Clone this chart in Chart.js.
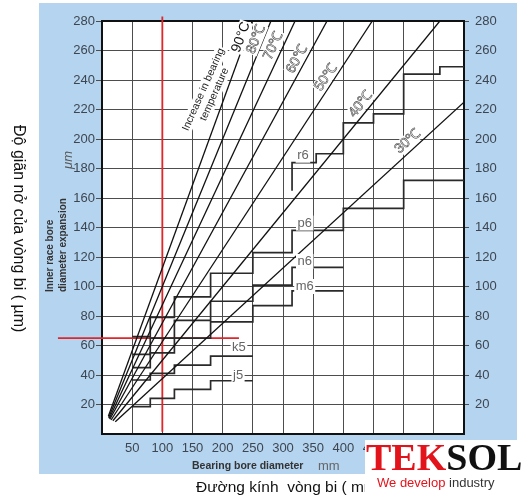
<!DOCTYPE html>
<html><head><meta charset="utf-8">
<script src="https://cdn.jsdelivr.net/npm/chart.js@4/dist/chart.umd.min.js"></script>
<style>html,body{margin:0;padding:0;background:#fff;}canvas{display:block;}</style>
</head><body>
<canvas id="c" width="529" height="496"></canvas>
<script>
// ---- data ----
const xTicks = [50, 100, 150, 200, 250, 300, 350, 400, 450, 500, 550];
const yTicks = [20, 40, 60, 80, 100, 120, 140, 160, 180, 200, 220, 240, 260, 280];

const tempNames  = ['90°C', '80℃', '70℃', '60℃', '50℃', '40℃', '30℃'];
const tempStartX = [10.5, 11, 12, 13, 15, 18, 22];
const tempStartY = [12, 11, 10.5, 10, 9.5, 9, 8.3];
const tempEndX   = [249, 280, 320, 373, 448, 560, 600];
const tempEndY   = [280, 280, 280, 280, 280, 280, 225];

const sizeSteps = [50, 80, 120, 180, 250, 315, 400, 500, 600];
const j5 = [18.5, 24.2, 30.3, 36.1];
const k5 = [36.6, 41.1, 46.7, 52.8];
const m6 = [45, 55, 65, 76, 87, 97];
const n6 = [54, 65, 77, 90, 101, 113];
const p6 = [66, 79, 93, 109, 123, 138, 153, 172];
const r6Steps = [315, 315, 355, 400, 450, 500, 560, 600];
const r6 = [165, 184, 190, 211, 217, 244, 249];

const redVX = [100, 100], redVY = [283, 1.5];
const redHX = [-73, 227], redHY = [65, 65];

// ---- label placement (data coordinates) ----
const tempLabelPos = [[230.5, 269], [255.3, 267.6], [284.3, 263.2], [323.2, 254.1], [371.2, 241.9], [429.1, 223.6], [506.9, 198.5]];
const fitLabels = [
  {t: 'k5', x: 227, y: 58.6}, {t: 'j5', x: 225.5, y: 40},
  {t: 'm6', x: 336, y: 100}, {t: 'n6', x: 336, y: 117},
  {t: 'p6', x: 336, y: 143}, {t: 'r6', x: 333, y: 189}
];

function steps(xs, vals) {
  const pts = vals.map((v, i) => ({x: xs[i], y: v}));
  pts.push({x: xs[vals.length], y: vals[vals.length - 1]});
  return pts;
}

const datasets = [];
tempNames.forEach((n, i) => datasets.push({
  label: n, data: [{x: tempStartX[i], y: tempStartY[i]}, {x: tempEndX[i], y: tempEndY[i]}],
  borderColor: '#111', borderWidth: 1.3, pointRadius: 0, fill: false
}));
[['j5', j5, sizeSteps], ['k5', k5, sizeSteps], ['m6', m6, sizeSteps], ['n6', n6, sizeSteps], ['p6', p6, sizeSteps], ['r6', r6, r6Steps]]
  .forEach(([n, v, xs]) => datasets.push({
    label: n, data: steps(xs, v), stepped: 'before',
    borderColor: '#2a2a2a', borderWidth: 1.7, pointRadius: 0, fill: false
  }));
datasets.push({label: 'redV', data: redVX.map((x, i) => ({x, y: redVY[i]})), borderColor: '#e0262a', borderWidth: 1.8, pointRadius: 0, clip: false});
datasets.push({label: 'redH', data: redHX.map((x, i) => ({x, y: redHY[i]})), borderColor: '#e0262a', borderWidth: 1.8, pointRadius: 0, clip: false});

const SANS = 'Arial, "Liberation Sans", sans-serif';
const tickFont = {family: SANS, size: 13};
const tickColor = '#3d4650';
const gridColor = '#4d4d4d';

function txt(ctx, s, x, y, ang, font, color, align, bg) {
  ctx.save();
  ctx.translate(x, y);
  ctx.rotate(ang);
  ctx.font = font;
  ctx.textAlign = align || 'center';
  ctx.textBaseline = 'middle';
  if (bg) {
    const w = ctx.measureText(s).width;
    const h = parseFloat(font.match(/(\d+(\.\d+)?)px/)[1]);
    const x0 = (align === 'left') ? 0 : (align === 'right' ? -w : -w / 2);
    ctx.fillStyle = bg;
    ctx.fillRect(x0 - 1.5, -h / 2 - 1, w + 3, h + 2);
  }
  ctx.fillStyle = color;
  ctx.fillText(s, 0, 0);
  ctx.restore();
}

const deco = {
  id: 'deco',
  beforeDraw(chart) {
    const ctx = chart.ctx, a = chart.chartArea;
    ctx.save();
    ctx.fillStyle = '#fff';
    ctx.fillRect(0, 0, chart.width, chart.height);
    ctx.fillStyle = '#b5d4ef';
    ctx.fillRect(39, 3, 478, 471);
    ctx.fillStyle = '#fff';
    ctx.fillRect(a.left, a.top, a.right - a.left, a.bottom - a.top);
    ctx.restore();
  },
  beforeDatasetsDraw(chart) {
    const ctx = chart.ctx, a = chart.chartArea;
    ctx.save();
    ctx.strokeStyle = '#111';
    ctx.lineWidth = 2;
    ctx.strokeRect(a.left, a.top, a.right - a.left, a.bottom - a.top);
    ctx.restore();
  },
  afterDraw(chart) {
    const ctx = chart.ctx, sx = chart.scales.x, sy = chart.scales.y;
    // temperature labels
    tempNames.forEach((n, i) => {
      const x0 = sx.getPixelForValue(tempStartX[i]), y0 = sy.getPixelForValue(tempStartY[i]);
      const x1 = sx.getPixelForValue(tempEndX[i]), y1 = sy.getPixelForValue(tempEndY[i]);
      const ang = Math.atan2(y1 - y0, x1 - x0);
      const px = sx.getPixelForValue(tempLabelPos[i][0]), py = sy.getPixelForValue(tempLabelPos[i][1]);
      ctx.save();
      ctx.translate(px, py); ctx.rotate(ang);
      ctx.font = '14px ' + SANS;
      ctx.textAlign = 'center'; ctx.textBaseline = 'middle';
      const w = ctx.measureText(n).width;
      ctx.fillStyle = '#fff';
      ctx.fillRect(-w / 2 - 1, -7, w + 2, 14);
      if (i === 0) { ctx.fillStyle = '#111'; ctx.fillText(n, 0, 0); }
      else { ctx.fillStyle = '#fff'; ctx.fillText(n, 0, 0); ctx.strokeStyle = '#3a3a3a'; ctx.lineWidth = 0.55; ctx.strokeText(n, 0, 0); }
      ctx.restore();
    });
    // "Increase in bearing temperature"
    {
      const ang = -66 * Math.PI / 180;
      const cx = 209, cy = 92;
      const nx = Math.cos(ang + Math.PI / 2), ny = Math.sin(ang + Math.PI / 2);
      txt(ctx, 'Increase in bearing', cx - nx * 6, cy - ny * 6, ang, '10.5px ' + SANS, '#222', 'center', '#fff');
      txt(ctx, 'temperature', cx + nx * 6, cy + ny * 6, ang, '10.5px ' + SANS, '#222', 'center', '#fff');
    }
    // fit labels
    fitLabels.forEach(f => txt(ctx, f.t, sx.getPixelForValue(f.x), sy.getPixelForValue(f.y), 0, '13px ' + SANS, '#666', 'center', '#fff'));
    // inner axis titles
    txt(ctx, 'Inner race bore', 50, 292, -Math.PI / 2, 'bold 10px ' + SANS, '#333', 'left');
    txt(ctx, 'diameter expansion', 63, 292, -Math.PI / 2, 'bold 10px ' + SANS, '#333', 'left');
    txt(ctx, 'μm', 68, 160, -Math.PI / 2, 'italic 13px ' + SANS, '#555', 'center');
    txt(ctx, 'Bearing bore diameter', 192, 466, 0, 'bold 10.5px ' + SANS, '#333', 'left');
    txt(ctx, 'mm', 318, 466, 0, '13px ' + SANS, '#666', 'left');
    // Vietnamese captions
    txt(ctx, 'Độ giãn nở của vòng bi ( µm)', 18, 125, Math.PI / 2, '16px ' + SANS, '#111', 'left');
    txt(ctx, 'Đường kính  vòng bi ( mm )', 196, 488, 0, '15.5px ' + SANS, '#111', 'left');
    // logo
    ctx.save();
    ctx.fillStyle = '#fff';
    ctx.fillRect(365, 440, 164, 56);
    ctx.textBaseline = 'alphabetic'; ctx.textAlign = 'left';
    ctx.font = 'bold 38px "Liberation Serif", "Times New Roman", serif';
    ctx.fillStyle = '#e3131b';
    ctx.fillText('TEK', 366, 470);
    const wT = ctx.measureText('TEK').width;
    ctx.fillStyle = '#111';
    ctx.fillText('SOL', 366 + wT, 470);
    ctx.font = '13px ' + SANS;
    ctx.fillStyle = '#e3131b';
    ctx.fillText('We develop ', 377, 487);
    const wW = ctx.measureText('We develop ').width;
    ctx.fillStyle = '#333';
    ctx.fillText('industry', 377 + wW, 487);
    ctx.restore();
  }
};

new Chart(document.getElementById('c'), {
  type: 'line',
  data: {datasets},
  options: {
    responsive: false, animation: false, devicePixelRatio: 1,
    layout: {padding: {top: 21, left: 0, right: 0, bottom: 0}},
    plugins: {legend: {display: false}, tooltip: {enabled: false}},
    elements: {line: {tension: 0}},
    scales: {
      x: {
        type: 'linear', min: 0, max: 600,
        afterBuildTicks: s => { s.ticks = xTicks.map(v => ({value: v})); },
        ticks: {font: tickFont, color: tickColor, padding: 7, maxRotation: 0, autoSkip: false},
        grid: {color: gridColor, lineWidth: 1, drawTicks: false},
        border: {display: false},
        afterFit: s => { s.height = 62; }
      },
      y: {
        type: 'linear', position: 'left', min: 0, max: 280,
        afterBuildTicks: s => { s.ticks = yTicks.map(v => ({value: v})); },
        ticks: {font: tickFont, color: tickColor, padding: 1, autoSkip: false},
        grid: {color: gridColor, lineWidth: 1, tickLength: 6},
        border: {display: false},
        afterFit: s => { s.width = 102; }
      },
      y2: {
        type: 'linear', position: 'right', min: 0, max: 280,
        afterBuildTicks: s => { s.ticks = yTicks.map(v => ({value: v})); },
        ticks: {font: tickFont, color: tickColor, padding: 6, autoSkip: false},
        grid: {color: gridColor, lineWidth: 1, tickLength: 5, drawOnChartArea: false},
        border: {display: false},
        afterFit: s => { s.width = 65; }
      }
    }
  },
  plugins: [deco]
});
</script>
</body></html>
